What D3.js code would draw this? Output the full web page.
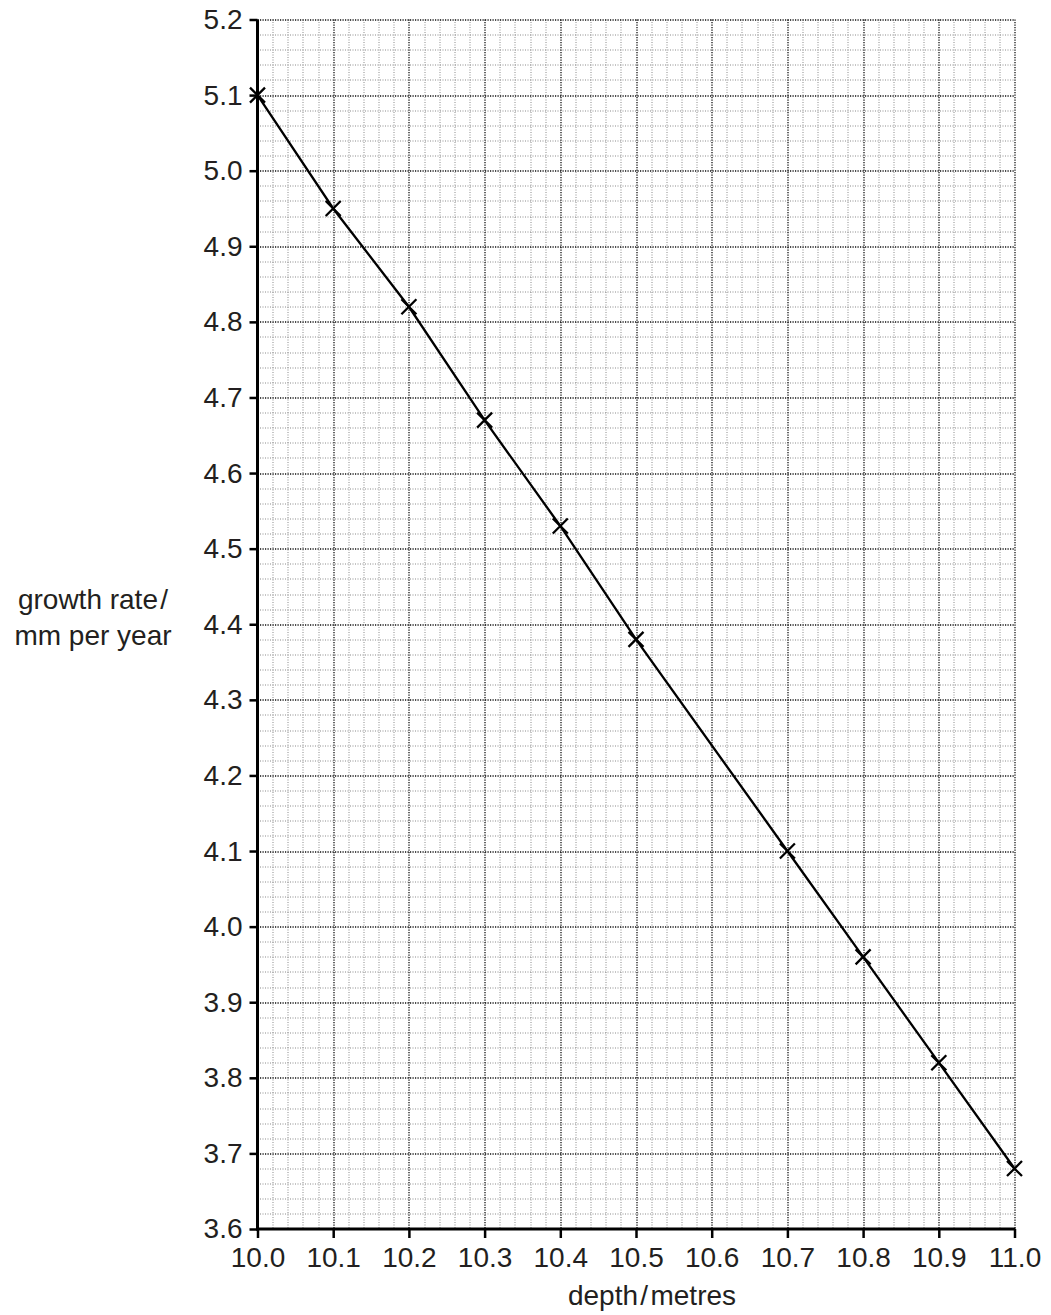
<!DOCTYPE html>
<html>
<head>
<meta charset="utf-8">
<script src="https://cdn.jsdelivr.net/npm/d3@7"></script>
<style>
  body { margin: 0; background: #fff; }
  svg text { font-family: "Liberation Sans", Arial, Helvetica, sans-serif; fill: #231f20; }
</style>
</head>
<body>
<svg id="chart" width="1051" height="1315"></svg>
<script>
// data
const depth = [10.0, 10.1, 10.2, 10.3, 10.4, 10.5, 10.7, 10.8, 10.9, 11.0];
const growthRate = [5.10, 4.95, 4.82, 4.67, 4.53, 4.38, 4.10, 3.96, 3.82, 3.68];
const xTicks = [10.0, 10.1, 10.2, 10.3, 10.4, 10.5, 10.6, 10.7, 10.8, 10.9, 11.0];
const yTicks = [3.6, 3.7, 3.8, 3.9, 4.0, 4.1, 4.2, 4.3, 4.4, 4.5, 4.6, 4.7, 4.8, 4.9, 5.0, 5.1, 5.2];

const margin = { top: 19.5, left: 257.5 };
const width = 757;
const height = 1209.5;

const svg = d3.select("#chart");
const g = svg.append("g")
    .attr("transform", "translate(" + margin.left + "," + margin.top + ")");

const x = d3.scaleLinear().domain([10.0, 11.0]).range([0, width]);
const y = d3.scaleLinear().domain([3.6, 5.2]).range([height, 0]);

// minor grid every 0.02
const minorX = d3.range(0, 51).map(i => 10 + i * 0.02).filter((d, i) => i % 5 !== 0);
const minorY = d3.range(0, 81).map(i => 3.6 + i * 0.02).filter((d, i) => i % 5 !== 0);

g.append("g").selectAll("line").data(minorX).join("line")
    .attr("x1", d => Math.round(x(d)) + 0.5).attr("x2", d => Math.round(x(d)) + 0.5)
    .attr("y1", 0).attr("y2", height)
    .attr("stroke", "#8a8a8a").attr("stroke-width", 1).attr("stroke-dasharray", "1,1.5");
g.append("g").selectAll("line").data(minorY).join("line")
    .attr("y1", d => Math.round(y(d)) + 0.5).attr("y2", d => Math.round(y(d)) + 0.5)
    .attr("x1", 0).attr("x2", width)
    .attr("stroke", "#8a8a8a").attr("stroke-width", 1).attr("stroke-dasharray", "1,1.5");

// major grid every 0.1
g.append("g").selectAll("line").data(xTicks.slice(1)).join("line")
    .attr("x1", d => Math.round(x(d)) + 0.5).attr("x2", d => Math.round(x(d)) + 0.5)
    .attr("y1", 0).attr("y2", height)
    .attr("stroke", "#111").attr("stroke-width", 1.3).attr("stroke-dasharray", "1.2,1.3");
g.append("g").selectAll("line").data(yTicks.slice(1)).join("line")
    .attr("y1", d => Math.round(y(d)) + 0.5).attr("y2", d => Math.round(y(d)) + 0.5)
    .attr("x1", 0).attr("x2", width)
    .attr("stroke", "#111").attr("stroke-width", 1.3).attr("stroke-dasharray", "1.2,1.3");

// axes
const xAxis = d3.axisBottom(x).tickValues(xTicks).tickFormat(d3.format(".1f"))
    .tickSize(9).tickPadding(9);
const yAxis = d3.axisLeft(y).tickValues(yTicks).tickFormat(d3.format(".1f"))
    .tickSize(8).tickPadding(7);

const gx = g.append("g").attr("transform", "translate(0," + height + ")").call(xAxis);
const gy = g.append("g").call(yAxis);
[gx, gy].forEach(a => {
    a.select(".domain").remove();
    a.selectAll(".tick line").attr("stroke", "#000").attr("stroke-width", 2.5);
    a.selectAll(".tick text").attr("font-size", 28).attr("fill", "#231f20")
        .attr("font-family", "'Liberation Sans', Arial, sans-serif");
});

// solid left and bottom axis lines
g.append("line").attr("x1", 0).attr("x2", 0).attr("y1", 0).attr("y2", height + 1.5)
    .attr("stroke", "#000").attr("stroke-width", 3);
g.append("line").attr("x1", -1.5).attr("x2", width + 1).attr("y1", height).attr("y2", height)
    .attr("stroke", "#000").attr("stroke-width", 3);

// data line
const line = d3.line().x((d, i) => x(depth[i])).y(d => y(d));
g.append("path").datum(growthRate)
    .attr("d", line).attr("fill", "none").attr("stroke", "#000").attr("stroke-width", 2.3);

// cross markers
const s = 7.5;
const pts = g.append("g").selectAll("g").data(growthRate).join("g")
    .attr("transform", (d, i) => "translate(" + x(depth[i]) + "," + y(d) + ")");
pts.append("path")
    .attr("d", "M" + (-s) + "," + (-s) + "L" + s + "," + s + "M" + (-s) + "," + s + "L" + s + "," + (-s))
    .attr("stroke", "#000").attr("stroke-width", 2.3).attr("fill", "none");

// axis titles
svg.append("text").attr("x", 652).attr("y", 1305).attr("text-anchor", "middle")
    .attr("font-size", 28).text("depth\u200A/\u200Ametres");
svg.append("text").attr("x", 93).attr("y", 609).attr("text-anchor", "middle")
    .attr("font-size", 28).text("growth rate\u200A/");
svg.append("text").attr("x", 93).attr("y", 645).attr("text-anchor", "middle")
    .attr("font-size", 28).text("mm per year");
</script>
</body>
</html>
